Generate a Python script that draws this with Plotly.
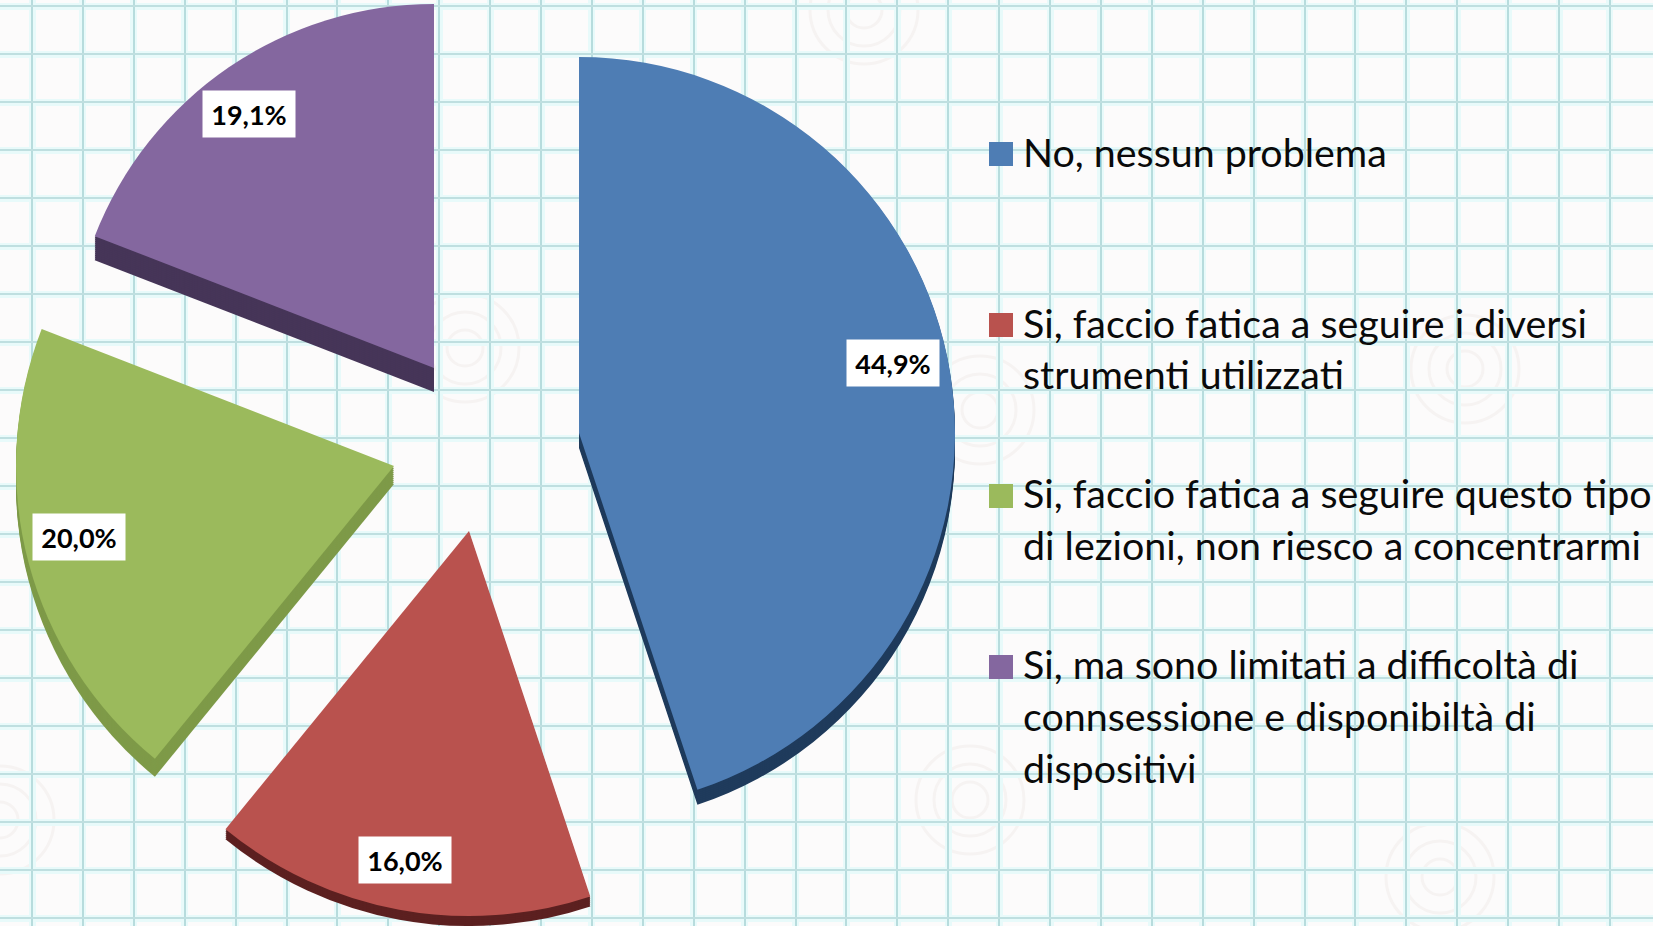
import plotly.graph_objects as go

W, H = 1653, 926

# Data
categories = [
    "No, nessun problema",
    "Si, faccio fatica a seguire i diversi strumenti utilizzati",
    "Si, faccio fatica a seguire questo tipo di lezioni, non riesco a concentrarmi",
    "Si, ma sono limitati a difficoltà di connsessione e disponibiltà di dispositivi",
]
values = [44.9, 16.0, 20.0, 19.1]
legend_lines = [
    ["No, nessun problema"],
    ["Si, faccio fatica a seguire i diversi", "strumenti utilizzati"],
    ["Si, faccio fatica a seguire questo tipo", "di lezioni, non riesco a concentrarmi"],
    ["Si, ma sono limitati a difficoltà di", "connsessione e disponibiltà di", "dispositivi"],
]

# Styling and layout
top_colors = ["#4E7DB4", "#B9524E", "#9BBA5C", "#84679F"]
side_colors = ["#1F3B5C", "#5C2020", "#7E9A48", "#463558"]
slice_centers = [(579, 433), (469, 531), (394, 466), (434, 368)]
slice_radii = [376, 385, 378, 364]
slice_depths = [15, 10, 18, 24]
label_centers = [(893, 363), (405, 860), (79, 537), (249, 114)]
swatch_y = [154, 325, 496, 667]
line_y = [[151], [322, 373], [492, 544], [663, 715, 767]]
watermarks = [(1440, 877), (970, 800), (465, 348), (980, 410), (1465, 369), (864, 10), (0, 820)]
FONT = "Lato, 'Open Sans', sans-serif"
TRANSPARENT = "rgba(0,0,0,0)"

fig = go.Figure()


def add_slice(i, color, dy):
    cx, cy = slice_centers[i]
    r = slice_radii[i]
    colors = [TRANSPARENT] * len(values)
    colors[i] = color
    fig.add_trace(go.Pie(
        labels=categories, values=values, sort=False, direction="clockwise", rotation=0,
        marker=dict(colors=colors, line=dict(width=0)),
        textinfo="none", hoverinfo="skip", showlegend=False,
        domain=dict(
            x=[(cx - r) / W, (cx + r) / W],
            y=[max(0, 1 - (cy + dy + r) / H), min(1, 1 - (cy + dy - r) / H)],
        ),
    ))


for i in range(len(values)):
    for dy in range(slice_depths[i], 0, -2):
        add_slice(i, side_colors[i], dy)
    add_slice(i, top_colors[i], 0)

# Paper grid: a pale halo layer and the sharper line layer, both real axis grids
grid_x = dict(range=[0, W], tick0=32, dtick=50.9, showticklabels=False, ticks="", zeroline=False, showline=False)
grid_y = dict(range=[H, 0], tick0=6, dtick=48, showticklabels=False, ticks="", zeroline=False, showline=False)
fig.add_trace(go.Scatter(x=[None], y=[None], xaxis="x", yaxis="y", showlegend=False))
fig.add_trace(go.Scatter(
    x=[1001] * len(swatch_y), y=swatch_y, xaxis="x2", yaxis="y2", mode="markers",
    marker=dict(symbol="square", size=24, color=top_colors, line=dict(width=0)),
    showlegend=False, hoverinfo="skip",
))

annotations = []
for lines, ys in zip(legend_lines, line_y):
    for text, y in zip(lines, ys):
        annotations.append(dict(
            x=1021, y=y, xref="x2", yref="y2", text=text, showarrow=False,
            xanchor="left", yanchor="middle", font=dict(family=FONT, size=39.4, color="#0A0A0A"),
        ))
for v, (x, y) in zip(values, label_centers):
    annotations.append(dict(
        x=x, y=y, xref="x2", yref="y2", text="<b>" + f"{v:.1f}%".replace(".", ",") + "</b>",
        showarrow=False, xanchor="center", yanchor="middle", width=90, height=44, align="center",
        valign="middle", bgcolor="#FFFFFF", font=dict(family=FONT, size=27, color="#000000"),
    ))

# Faint spiral-like watermarks printed on the paper
shapes = []
for wx, wy in watermarks:
    for radius in (18, 36, 54):
        shapes.append(dict(
            type="circle", xref="x", yref="y", layer="below",
            x0=wx - radius, x1=wx + radius, y0=wy - radius, y1=wy + radius,
            line=dict(color="#F6F3F2", width=3), fillcolor=TRANSPARENT,
        ))

fig.update_layout(
    width=W, height=H, margin=dict(l=0, r=0, t=0, b=0, pad=0, autoexpand=False),
    paper_bgcolor="#FCFBFB", plot_bgcolor="rgba(0,0,0,0)", showlegend=False,
    xaxis=dict(**grid_x, domain=[0, 1], showgrid=True, gridcolor="#E8FAFA", gridwidth=7),
    yaxis=dict(**grid_y, domain=[0, 1], showgrid=True, gridcolor="#E8FAFA", gridwidth=7),
    xaxis2=dict(**grid_x, domain=[0, 1], anchor="y2", overlaying="x", showgrid=True, gridcolor="#B7DCDD", gridwidth=2),
    yaxis2=dict(**grid_y, domain=[0, 1], anchor="x2", overlaying="y", showgrid=True, gridcolor="#BFDFE0", gridwidth=2),
    annotations=annotations,
    shapes=shapes,
)

fig.write_html(
    "out.html",
    config=dict(displayModeBar=False),
    post_script="document.body.style.margin='0';document.documentElement.style.overflow='hidden';",
)
